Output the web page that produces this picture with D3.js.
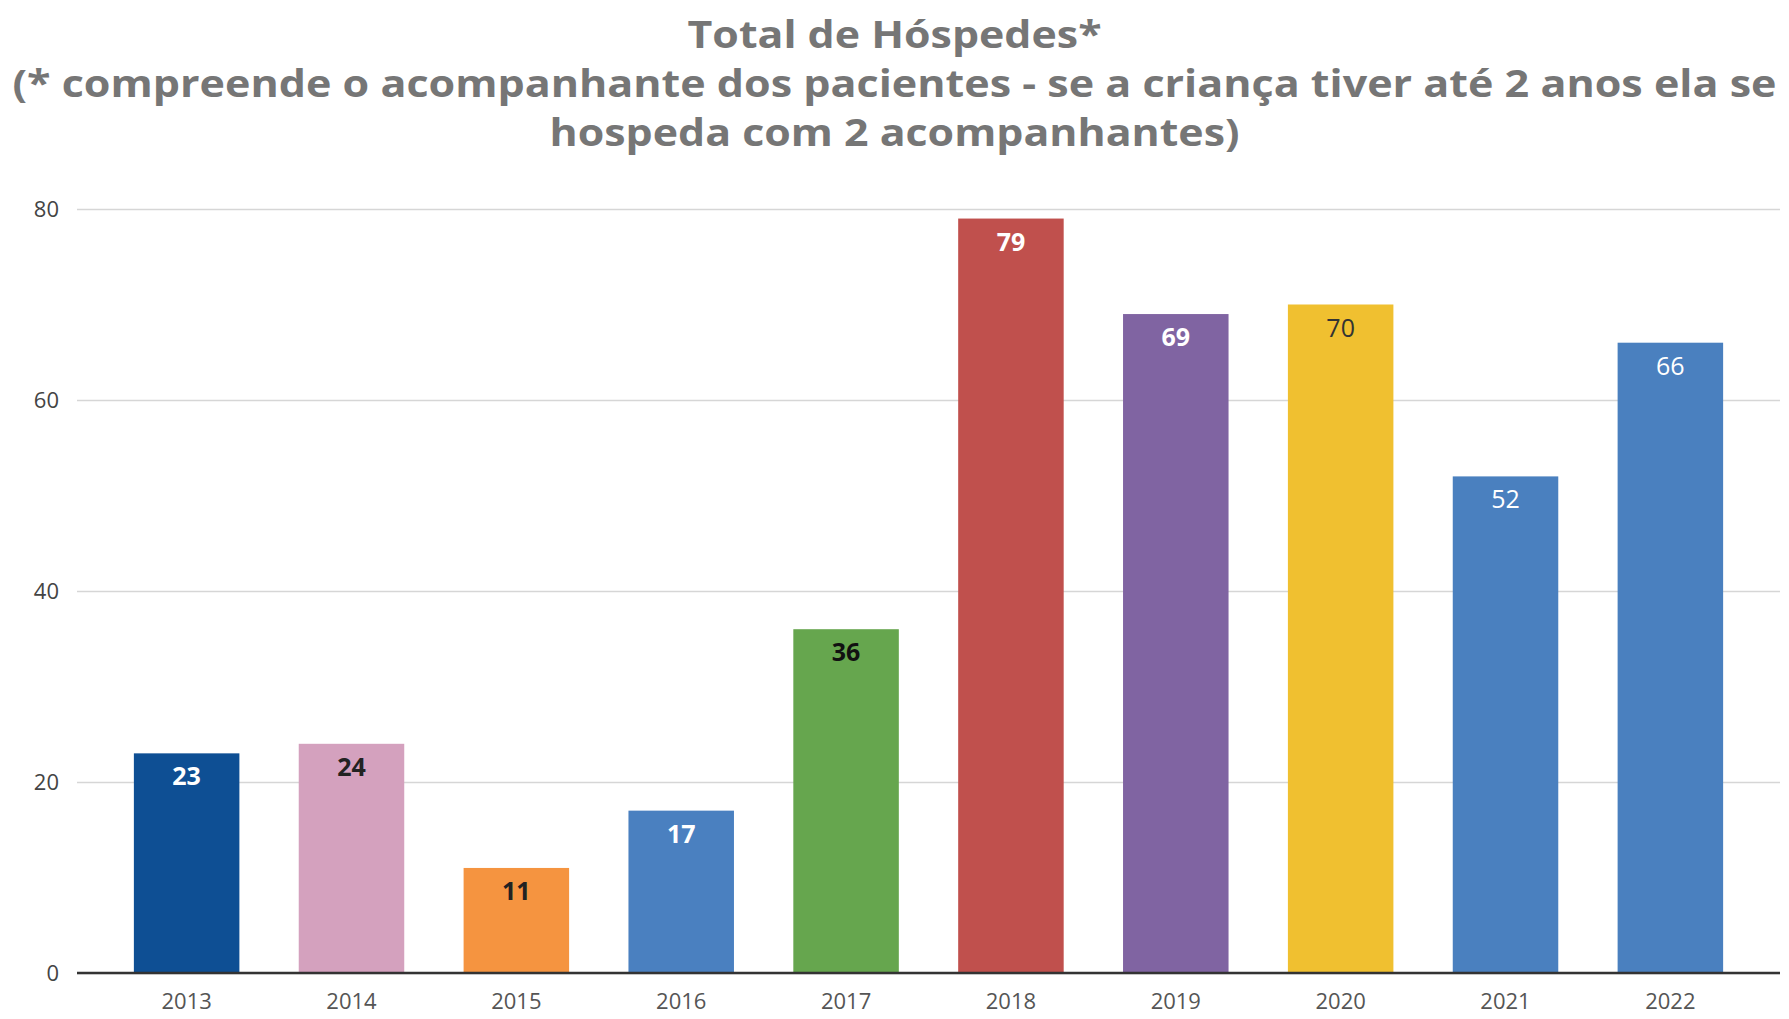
<!DOCTYPE html>
<html>
<head>
<meta charset="utf-8">
<script src="https://cdn.jsdelivr.net/npm/d3@7"></script>
<style>
    body { margin: 0; background: #fff; }
    text { font-family: "Open Sans", "DejaVu Sans", sans-serif; }
</style>
</head>
<body>
<svg></svg>
<script>
const
    years = ['2013', '2014', '2015', '2016', '2017', '2018', '2019', '2020', '2021', '2022'],
    guests = [23, 24, 11, 17, 36, 79, 69, 70, 52, 66],
    barColors = ['#0e4f94', '#d4a1be', '#f59440', '#4a80c0', '#66a64e', '#c0504d', '#8064a2', '#f0c030', '#4a80bf', '#4a80bf'],
    labelColors = ['#fff', '#222', '#222', '#fff', '#111', '#fff', '#fff', '#333', '#fff', '#fff'],
    labelBold = [true, true, true, true, true, true, true, false, false, false],
    yTicks = [0, 20, 40, 60, 80],
    titleLines = [
        'Total de Hóspedes*',
        '(* compreende o acompanhante dos pacientes - se a criança tiver até 2 anos ela se',
        'hospeda com 2 acompanhantes)'
    ]

const
    width = 1789,
    height = 1019,
    margin = { top: 209, right: 9, bottom: 46, left: 77 }

const svg = d3.select('svg')
    .attr('width', width)
    .attr('height', height)

const x = d3.scaleBand()
    .domain(years)
    .range([margin.left, width - margin.right])
    .paddingInner(0.36)
    .paddingOuter(0.345)

const y = d3.scaleLinear()
    .domain([0, 80])
    .range([height - margin.bottom, margin.top])

// title
const titleWidths = [414, 1764, 690],
    titleBase = [48, 97, 146]
svg.append('g')
    .selectAll('text')
    .data(titleLines)
    .enter().append('text')
    .attr('x', width / 2)
    .attr('y', (d, i) => titleBase[i])
    .attr('text-anchor', 'middle')
    .attr('textLength', (d, i) => titleWidths[i])
    .attr('lengthAdjust', 'spacingAndGlyphs')
    .attr('font-size', 38)
    .attr('font-weight', 'bold')
    .attr('fill', '#767676')
    .text(d => d)

// grid + y axis
const yAxis = g => g
    .attr('transform', `translate(${margin.left},0)`)
    .call(d3.axisLeft(y).tickValues(yTicks).tickSize(-(width - margin.left - margin.right)).tickPadding(18))
    .call(g => g.select('.domain').remove())
    .call(g => g.selectAll('.tick line').attr('stroke', '#d6d6d6').attr('stroke-width', 1.5))
    .call(g => g.selectAll('.tick text').attr('font-size', 22).attr('fill', '#444')
        .attr('font-family', '"Open Sans", sans-serif'))

svg.append('g').call(yAxis)

// bars
svg.append('g')
    .selectAll('rect')
    .data(years)
    .enter().append('rect')
    .attr('x', d => x(d))
    .attr('y', (d, i) => y(guests[i]))
    .attr('width', x.bandwidth())
    .attr('height', (d, i) => y(0) - y(guests[i]))
    .attr('fill', (d, i) => barColors[i])

// value labels
svg.append('g')
    .selectAll('text')
    .data(years)
    .enter().append('text')
    .attr('x', d => x(d) + x.bandwidth() / 2)
    .attr('y', (d, i) => y(guests[i]) + 32)
    .attr('text-anchor', 'middle')
    .attr('font-size', 25)
    .attr('font-weight', (d, i) => labelBold[i] ? 'bold' : 'normal')
    .attr('fill', (d, i) => labelColors[i])
    .text((d, i) => guests[i])

// x axis
const xAxis = g => g
    .attr('transform', `translate(0,${y(0)})`)
    .call(d3.axisBottom(x).tickSize(0).tickPadding(20))
    .call(g => g.select('.domain').attr('stroke', '#333').attr('stroke-width', 2.5)
        .attr('d', `M${margin.left},0H${width - margin.right}`))
    .call(g => g.selectAll('.tick text').attr('font-size', 22).attr('fill', '#555')
        .attr('font-family', '"Open Sans", sans-serif'))

svg.append('g').call(xAxis)
</script>
</body>
</html>
